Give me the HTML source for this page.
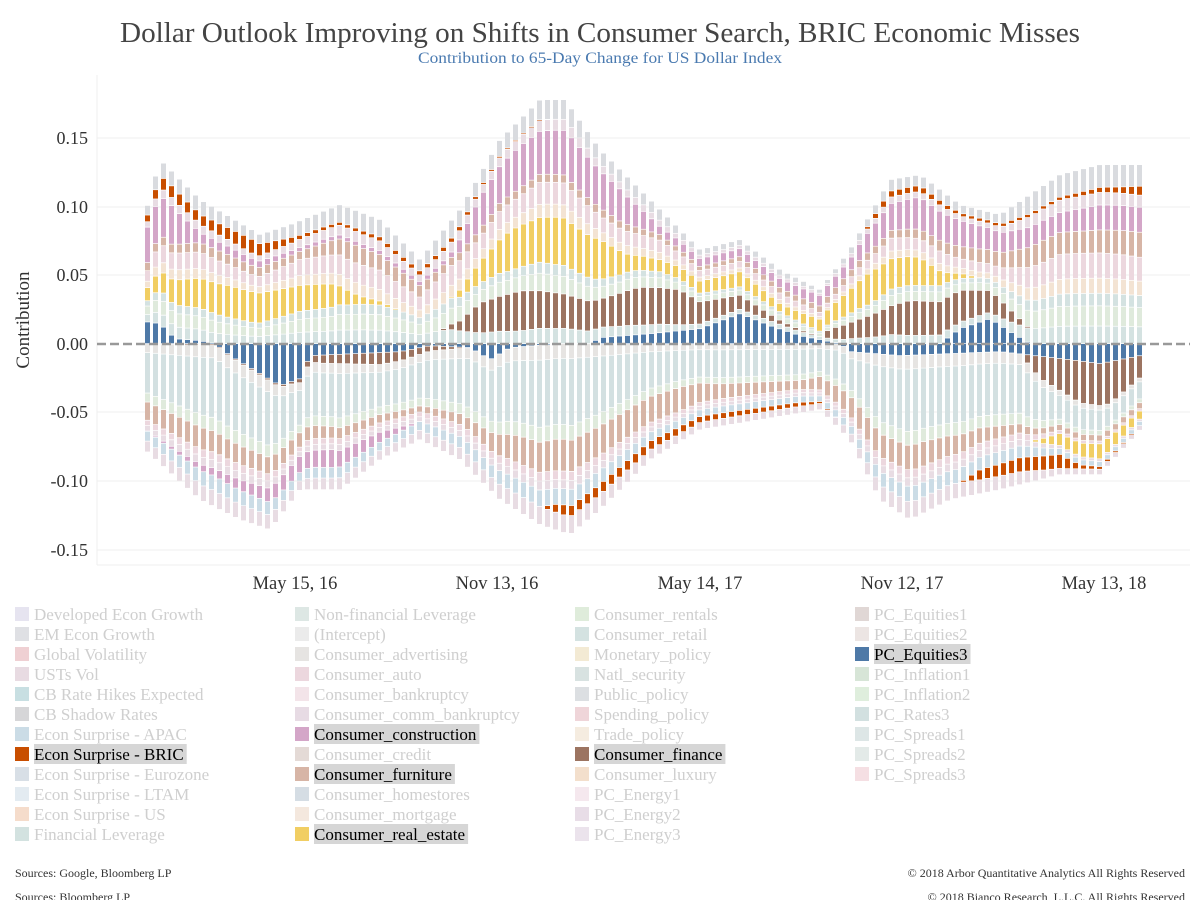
<!DOCTYPE html>
<html><head><meta charset="utf-8"><style>
body{margin:0;width:1200px;height:900px;overflow:hidden;background:#fff;font-family:"Liberation Serif",serif;}
svg{position:absolute;left:0;top:0}
</style></head><body>
<svg id="s" width="1200" height="900" xmlns="http://www.w3.org/2000/svg" font-family="Liberation Serif, serif">
<text x="600" y="42" text-anchor="middle" font-size="29" fill="#444" textLength="960" lengthAdjust="spacingAndGlyphs">Dollar Outlook Improving on Shifts in Consumer Search, BRIC Economic Misses</text>
<text x="600" y="63" text-anchor="middle" font-size="15.5" fill="#4a7ab0" textLength="364" lengthAdjust="spacingAndGlyphs">Contribution to 65-Day Change for US Dollar Index</text>
<g stroke="#efefef" stroke-width="1">
<line x1="97" x2="1190" y1="138" y2="138"/><line x1="97" x2="1190" y1="207" y2="207"/><line x1="97" x2="1190" y1="275" y2="275"/><line x1="97" x2="1190" y1="412" y2="412"/><line x1="97" x2="1190" y1="481" y2="481"/><line x1="97" x2="1190" y1="550" y2="550"/>
<line x1="97" x2="97" y1="75" y2="565"/><line x1="97" x2="1190" y1="565" y2="565"/>
</g>
<g font-size="18" fill="#333" text-anchor="end">
<text x="88" y="144">0.15</text><text x="88" y="213">0.10</text><text x="88" y="281">0.05</text><text x="88" y="350">0.00</text><text x="88" y="418">-0.05</text><text x="88" y="487">-0.10</text><text x="88" y="556">-0.15</text>
</g>
<text transform="translate(29,320) rotate(-90)" text-anchor="middle" font-size="19" fill="#333">Contribution</text>
<g font-size="18.5" fill="#333" text-anchor="middle">
<text x="295" y="589">May 15, 16</text><text x="497" y="589">Nov 13, 16</text><text x="700" y="589">May 14, 17</text><text x="902" y="589">Nov 12, 17</text><text x="1104" y="589">May 13, 18</text>
</g>
<g id="bars"></g>
<line x1="97" x2="1190" y1="344" y2="344" stroke="#999" stroke-width="2.5" stroke-dasharray="9,4"/>
<g id="leg" font-size="17"></g>
<g font-size="12" fill="#333">
<text x="15" y="877">Sources: Google, Bloomberg LP</text>
<text x="15" y="901">Sources: Bloomberg LP</text>
<text x="1185" y="877" text-anchor="end">© 2018 Arbor Quantitative Analytics  All Rights Reserved</text>
<text x="1185" y="901" text-anchor="end">© 2018 Bianco Research, L.L.C. All Rights Reserved</text>
</g>
</svg>
<script>
function I(p,x){if(x<=p[0][0])return p[0][1];for(var i=1;i<p.length;i++){if(x<=p[i][0]){var a=p[i-1],b=p[i];return a[1]+(b[1]-a[1])*(x-a[0])/(b[0]-a[0]);}}return p[p.length-1][1];}
var top_=[[145,215],[160,160],[200,200],[260,235],[290,225],[340,205],[380,220],[420,260],[460,210],[500,140],[540,100],[565,100],[600,150],[650,200],[700,250],[740,240],[780,270],[820,290],[850,250],[890,180],[920,175],[960,205],[1000,215],[1060,175],[1100,165],[1140,165]];
var bot=[[145,450],[200,500],[240,520],[270,530],[300,490],[340,490],[380,460],[420,440],[460,460],[500,500],[540,525],[570,535],[600,510],[650,460],[700,430],[760,420],[820,410],[850,440],[880,500],[910,520],[950,500],[1000,490],[1060,475],[1100,475],[1140,430]];
var blueP=[[145,22],[160,20],[175,5],[200,3],[215,0],[590,0],[600,6],[650,10],[700,15],[740,30],[770,18],[800,8],[840,0],[940,0],[960,15],[990,25],[1010,12],[1030,0],[1140,0]];
var brownP=[[145,0],[440,0],[460,10],[480,30],[520,40],[560,35],[600,28],[640,38],[680,35],[700,22],[740,14],[780,4],[820,0],[830,10],[870,22],[910,35],[960,32],[1000,18],[1030,0],[1140,0]];
var yellowP=[[145,12],[175,25],[200,30],[230,32],[260,30],[300,26],[330,24],[360,8],[400,0],[450,0],[470,15],[510,40],[560,48],[600,40],[630,16],[660,12],[700,12],[740,15],[780,8],[820,12],[870,32],[920,28],[950,8],[980,0],[1140,0]];
var tanP=[[145,8],[220,10],[300,8],[350,18],[400,14],[450,8],[600,8],[700,4],[900,8],[1000,15],[1040,22],[1080,22],[1140,25]];
var pinkP=[[145,35],[170,40],[200,10],[300,4],[340,4],[450,4],[480,32],[520,42],[570,45],[620,32],[660,8],[760,8],[850,12],[880,25],[920,32],[1000,20],[1060,20],[1100,25],[1140,25]];
var orangeP=[[145,6],[165,12],[200,10],[230,12],[250,14],[300,4],[340,3],[380,4],[420,4],[460,4],[480,2],[560,0],[860,0],[880,6],[920,6],[960,3],[1060,3],[1120,6],[1140,9]];
var blueN=[[145,0],[215,0],[230,12],[260,30],[280,42],[300,35],[310,12],[400,8],[430,2],[470,4],[490,16],[510,4],[560,0],[840,0],[850,8],[900,12],[1000,8],[1070,16],[1100,20],[1140,12]];
var brownN=[[145,0],[290,2],[320,8],[380,12],[440,4],[470,0],[1020,0],[1040,22],[1080,42],[1110,42],[1140,22]];
var tanN=[[145,18],[200,22],[280,16],[350,10],[420,6],[470,12],[520,28],[560,32],[620,28],[680,24],[720,15],[800,9],[860,22],[920,25],[1000,12],[1040,6],[1140,6]];
var yellowN=[[145,0],[1030,0],[1060,12],[1100,15],[1140,8]];
var pinkN=[[145,0],[280,15],[330,18],[380,10],[420,0],[860,0],[1140,0]];
var orangeN=[[145,0],[540,0],[560,10],[600,10],[640,9],[700,6],[760,5],[800,4],[840,0],[960,0],[980,10],[1020,14],[1060,14],[1080,4],[1140,0]];
var B='#4e79a7',BR='#9c7461',Y='#f1ce63',T='#d7b5a6',P='#d4a6c8',O='#c84e00';
var out='';
function seg(x,y,h,c){if(h<0.5)return;out+='<rect x="'+x+'" y="'+y.toFixed(1)+'" width="5" height="'+Math.max(h-0.7,0.5).toFixed(1)+'" fill="'+c+'"/>';}
for(var i=0;i<125;i++){var x=145+i*8;var cx=x+2.5;
 var tot=344-I(top_,cx);var b=I(blueP,cx),br=I(brownP,cx),y=I(yellowP,cx),t=I(tanP,cx),p=I(pinkP,cx),o=I(orangeP,cx);
 var rem=Math.max(tot-(b+br+y+t+p+o),12);
 var list=[[b,B],[rem*0.14,'#d4e2e1'],[br,BR],[rem*0.16,'#dfeadc'],[rem*0.1,'#d4e2e1'],[y,Y],[rem*0.12,'#f3e3d3'],[rem*0.2,'#ecd7de'],[t,T],[p,P],[rem*0.1,'#e8dce3'],[o,O],[rem*0.18,'#d9dbdf']];
 var cy=344;list.forEach(function(s){cy-=s[0];seg(x,cy,s[0],s[1]);});
 var totn=I(bot,cx)-344;var bn=I(blueN,cx),brn=I(brownN,cx),tn=I(tanN,cx),yn=I(yellowN,cx),pn=I(pinkN,cx),on=I(orangeN,cx);
 var remn=Math.max(totn-(bn+brn+tn+yn+pn+on),15);
 var ln=[[bn,B],[brn,BR],[remn*0.1,'#e6e4e2'],[remn*0.45,'#d3e0e1'],[remn*0.1,'#dfeadc'],[tn,T],[remn*0.06,'#ecd7de'],[yn,Y],[remn*0.06,'#e8dce3'],[pn,P],[remn*0.11,'#cbdce6'],[on,O],[remn*0.12,'#e8dce3']];
 cy=344;ln.forEach(function(s){seg(x,cy,s[0],s[1]);cy+=s[0];});
}
document.getElementById('bars').innerHTML=out;
var cols=[
[["Developed Econ Growth","#e6e4f0"],["EM Econ Growth","#dfe0e4"],["Global Volatility","#efd0d3"],["USTs Vol","#e8dbe2"],["CB Rate Hikes Expected","#c8dfe2"],["CB Shadow Rates","#d6d6d8"],["Econ Surprise - APAC","#cbdce6"],["Econ Surprise - BRIC","#c84e00",1],["Econ Surprise - Eurozone","#d8dfe6"],["Econ Surprise - LTAM","#e3ebf1"],["Econ Surprise - US","#f5dccb"],["Financial Leverage","#d3e2e0"]],
[["Non-financial Leverage","#dde7e4"],["(Intercept)","#ebebeb"],["Consumer_advertising","#e6e4e2"],["Consumer_auto","#ecd7de"],["Consumer_bankruptcy","#f3e4e9"],["Consumer_comm_bankruptcy","#e7dbe4"],["Consumer_construction","#d4a6c8",1],["Consumer_credit","#e4dad6"],["Consumer_furniture","#d7b5a6",1],["Consumer_homestores","#d5dde4"],["Consumer_mortgage","#f4e8de"],["Consumer_real_estate","#f1ce63",1]],
[["Consumer_rentals","#dfecdb"],["Consumer_retail","#d4e2e1"],["Monetary_policy","#f3ead4"],["Natl_security","#d8e2e1"],["Public_policy","#dcdfe2"],["Spending_policy","#efd5d9"],["Trade_policy","#f5ece0"],["Consumer_finance","#9c7461",1],["Consumer_luxury","#f3dfcc"],["PC_Energy1","#f5e8ee"],["PC_Energy2","#e8dde7"],["PC_Energy3","#ebe3ec"]],
[["PC_Equities1","#e0d7d5"],["PC_Equities2","#ece5e3"],["PC_Equities3","#4e79a7",1],["PC_Inflation1","#d7e5d7"],["PC_Inflation2","#dfeedd"],["PC_Rates3","#d2e0e0"],["PC_Spreads1","#dde6e6"],["PC_Spreads2","#e3eae8"],["PC_Spreads3","#f5dfe3"]]];
var xs=[15,295,575,855],lg='';
cols.forEach(function(c,ci){c.forEach(function(it,ri){var x=xs[ci],y=607+ri*20;
 lg+='<rect x="'+x+'" y="'+y+'" width="14" height="14" fill="'+it[1]+'"/>';
 if(it[2]){lg+='<rect class="hl" x="'+(x+19)+'" y="'+(y-3)+'" width="10" height="20" fill="#d6d6d6"/>';}
 lg+='<text x="'+(x+19)+'" y="'+(y+13)+'" fill="'+(it[2]?'#000':'#cfcfcf')+'">'+it[0]+'</text>';});});
var L=document.getElementById('leg');L.innerHTML=lg;
var hs=L.querySelectorAll('rect.hl');
for(var k=0;k<hs.length;k++){var t=hs[k].nextElementSibling;try{hs[k].setAttribute('width',(t.getComputedTextLength()+3).toFixed(1));}catch(e){}}
</script>
</body></html>
